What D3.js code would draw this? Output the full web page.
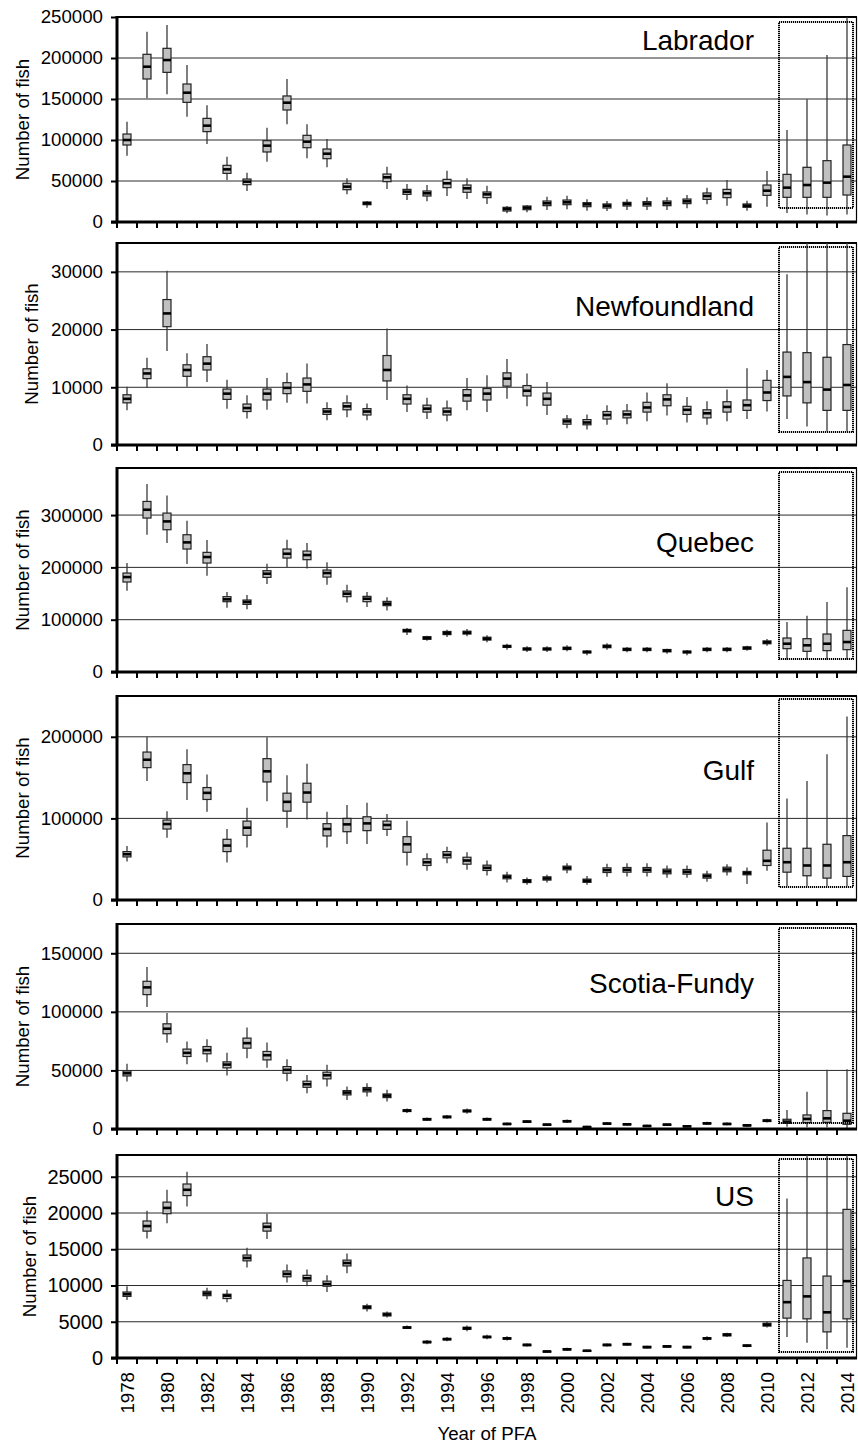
<!DOCTYPE html>
<html>
<head>
<meta charset="utf-8">
<script src="https://cdn.jsdelivr.net/npm/d3@7/dist/d3.min.js"></script>
<style>
  body { margin: 0; background: #fff; }
  svg { display: block; }
  text { font-family: "Liberation Sans", Arial, sans-serif; fill: #000; }
</style>
</head>
<body>
<svg id="chart" width="858" height="1445"></svg>
<script>
// ---- categories ----
const years = ["1978","1979","1980","1981","1982","1983","1984","1985","1986","1987",
  "1988","1989","1990","1991","1992","1993","1994","1995","1996","1997","1998","1999",
  "2000","2001","2002","2003","2004","2005","2006","2007","2008","2009","2010","2011",
  "2012","2013","2014"];
const yearLabels = ["1978","1980","1982","1984","1986","1988","1990","1992","1994","1996",
  "1998","2000","2002","2004","2006","2008","2010","2012","2014"];
const projectedYears = ["2011","2012","2013","2014"];
const regions = ["Labrador","Newfoundland","Quebec","Gulf","Scotia-Fundy","US"];

// ---- value axes ----
const yMax = [250000, 35000, 390000, 250000, 175000, 28000];
const labradorTicks = [0, 50000, 100000, 150000, 200000, 250000];
const newfoundlandTicks = [0, 10000, 20000, 30000];
const quebecTicks = [0, 100000, 200000, 300000];
const gulfTicks = [0, 100000, 200000];
const scotiaFundyTicks = [0, 50000, 100000, 150000];
const usTicks = [0, 5000, 10000, 15000, 20000, 25000];

// ---- Labrador ----
const labradorLow = [80900,150800,155700,128500,95100,51200,37800,73600,119100,77600,66700,33700,17500,40200,26800,25200,31700,28000,21900,10600,11800,14600,15400,13800,13400,14600,14600,14600,16700,21500,19900,13800,18700,11000,9000,8000,9000];
const labradorQ1 = [93900,174400,182500,145900,110200,59300,45500,85400,136600,90600,77200,39400,21100,49200,33700,31700,41900,36200,29700,13400,15000,19900,21100,18700,17100,19500,19500,19900,22400,27600,29700,17900,32500,30100,30100,30100,32900];
const labradorMedian = [100000,189400,197500,157700,117500,64200,49200,93100,145500,98000,83300,43100,22800,54500,37000,35000,47200,41100,33700,15900,17500,22800,24000,21500,19900,22000,22400,22800,25200,31700,35000,19900,38200,41900,45100,48000,55300];
const labradorQ3 = [107300,204500,211800,168300,126400,69100,52400,99200,153700,105700,89000,47200,24400,58500,39800,37800,52000,45100,36600,17900,19500,25600,26800,23600,22000,24000,24800,25600,28000,35400,39800,22000,45100,58100,66700,74800,93900];
const labradorHigh = [122400,232000,240200,191500,142300,79700,60200,115000,174400,119100,101200,53300,25600,67500,46300,45100,62600,53300,44300,19500,20700,30900,32100,27600,25600,27600,30100,30100,32900,41900,51200,26000,62200,112200,149600,203700,262000];

// ---- Newfoundland ----
const newfoundlandLow = [6000,9900,16300,10100,10900,6300,4600,6100,7300,7200,4300,4800,4300,7800,5700,4500,4100,6000,5700,8000,6700,5200,2900,2700,3500,3600,4100,5100,3900,3500,4100,4500,5800,4500,3200,2400,2400];
const newfoundlandQ1 = [7300,11500,20500,11900,13000,7900,5800,7800,8900,9300,5300,6100,5200,11100,7100,5700,5200,7600,7800,10200,8500,6900,3600,3500,4500,4700,5700,6800,5300,4700,5700,6000,7700,8500,7300,6000,6000];
const newfoundlandMedian = [8000,12400,22800,13000,14100,8900,6400,8900,9900,10500,5800,6700,5800,13000,8000,6300,5800,8600,8900,11500,9400,8000,4100,3900,5200,5300,6500,7900,6100,5500,6600,6900,9100,11800,10900,9600,10400];
const newfoundlandQ3 = [8700,13200,25200,13900,15300,9700,7100,9700,10800,11600,6300,7300,6300,15500,8700,6900,6400,9600,9800,12500,10300,9000,4500,4400,5800,5900,7400,8700,6700,6100,7500,7800,11200,16100,16000,15200,17400];
const newfoundlandHigh = [10100,15100,30200,15900,17500,11300,8600,11600,12500,14100,7400,8600,7200,20200,10300,8200,7700,11600,12100,14900,12400,10900,5200,5300,6900,7100,9100,10700,8300,7600,9600,13300,13000,29600,37000,37000,37000];

// ---- Quebec ----
const quebecLow = [155400,262400,246500,206400,184100,122900,119800,168200,200000,198100,166900,133100,124200,117800,70700,59900,66900,68200,56700,42700,38200,38200,39500,31900,42700,37600,37600,35000,32000,37600,37600,40800,50300,23600,23600,23600,23600];
const quebecQ1 = [172000,294300,272000,235100,208300,134400,129300,180900,217900,214700,181500,144000,134400,126800,76500,62500,71500,72500,61000,47000,42000,42000,43000,36500,46500,41000,41000,38500,36500,41000,41000,43500,54000,44600,39500,40800,42700];
const quebecMedian = [181500,310200,287900,247800,219800,138900,133800,187900,226100,223600,189200,149700,140100,130600,79000,65000,74500,75200,63700,49000,44000,44000,45200,38200,49000,43300,43300,40800,38200,43300,43300,45900,56700,54100,51000,54100,57300];
const quebecQ3 = [189200,326100,303800,262400,228700,144000,137600,193600,235100,231200,194900,154800,144600,135000,81500,67500,77500,78000,66500,51000,46000,46000,47500,40000,51500,45500,45500,43000,40000,45500,45500,48000,59500,65000,63700,72600,79600];
const quebecHigh = [208300,359300,337600,289200,252300,152900,147100,207000,252900,246500,209600,166900,152900,142700,84100,69400,80900,82200,70100,54100,49000,49000,51000,42000,54800,47800,47800,44600,42000,47800,47800,50300,63100,95600,107700,133800,161800];

// ---- Gulf ----
const gulfLow = [47200,145900,76400,122400,108100,45900,64200,121100,88600,98800,64200,68700,68700,78500,42300,35800,45100,37000,30100,21500,18700,21500,32900,18700,28500,28900,28900,27200,27200,22400,30100,19500,35800,17000,17000,17000,17000];
const gulfQ1 = [52800,162200,87000,143900,123200,59300,79300,144700,108900,119900,78500,83700,85000,86600,58500,42300,51600,43900,36200,26000,21400,24400,37000,21600,33700,34100,34100,32100,31700,26800,34600,30900,42300,34100,29700,26800,28900];
const gulfMedian = [56100,171900,93100,155300,131300,66700,88600,157700,120300,131700,87000,92700,93900,91900,68300,46300,55300,48400,39400,28500,23200,26400,39400,23600,36600,37000,37000,35000,34600,29300,37400,32900,48000,46300,42300,42300,46300];
const gulfQ3 = [59300,181300,98000,165900,137800,74400,96700,173200,130900,143100,93500,100000,102000,96700,77600,50400,59300,52400,42700,30500,25000,28400,41500,25600,39400,39800,39800,37800,37400,31700,40200,35000,61000,63400,63400,68300,78900];
const gulfHigh = [66300,200000,108900,184600,153700,87000,113000,199600,152800,167100,108100,116300,119100,105300,97200,57300,65400,58500,48400,34600,27600,30900,45100,29300,44300,45100,45100,42300,42300,35800,43900,39800,95100,124400,145900,178500,224800];

// ---- Scotia-Fundy ----
const scotiaFundyLow = [40500,104100,73600,55300,57000,45600,60500,52200,40800,30500,36200,24800,27700,23400,13700,6900,8700,13100,6900,3200,5100,2700,5200,900,3400,2900,1700,2700,1400,3500,3100,2000,5500,2000,1400,1400,600];
const scotiaFundyQ1 = [45300,114700,81300,61900,64200,52200,69000,59000,47600,35600,42800,29100,31700,26800,14900,7600,9600,14600,7600,3800,5700,3200,6000,1300,4100,3500,2200,3200,1900,4300,3800,2600,6400,4800,5400,5700,4000];
const scotiaFundyMedian = [47600,120900,85600,65000,67300,55000,73300,63000,50500,38200,45900,31100,33700,28500,15700,8300,10300,15400,8300,4300,6300,3700,6600,1700,4600,4000,2600,3700,2300,4800,4300,3100,7100,6300,8600,9100,7100];
const scotiaFundyQ3 = [49600,126100,89800,68200,70400,57300,77600,66200,53300,40800,48500,32800,35400,29900,16500,9000,11000,16200,9000,4800,6900,4200,7200,2100,5100,4500,3000,4200,2700,5300,4800,3600,7800,8300,12000,15700,13400];
const scotiaFundyHigh = [55600,138300,99000,74700,76700,65000,86700,73900,59600,46200,54800,36200,39100,33400,17400,9800,12000,17400,9800,5500,7600,4800,8100,2800,5900,5200,3600,4800,3300,6200,5600,4300,8800,16300,31700,50500,51000];

// ---- US ----
const usLow = [8000,16500,18600,20900,8100,7700,12500,16400,10400,9900,9100,11700,6400,5600,4000,1900,2300,3700,2600,2400,1600,750,1000,850,1600,1700,1300,1400,1300,2400,2900,1500,4200,2900,2100,1200,1400];
const usQ1 = [8500,17500,19900,22400,8600,8200,13400,17500,11200,10600,9900,12700,6800,5800,4100,2100,2500,3950,2800,2600,1700,850,1100,950,1700,1800,1400,1500,1400,2600,3050,1600,4400,5500,5400,3600,5400];
const usMedian = [8800,18200,20700,23200,8900,8600,13800,18100,11600,11000,10200,13100,7000,6000,4200,2200,2600,4100,2900,2700,1800,900,1200,1000,1800,1900,1500,1600,1500,2700,3200,1700,4600,7700,8500,6300,10600];
const usQ3 = [9100,18900,21500,24000,9200,8800,14200,18600,12000,11400,10600,13500,7200,6200,4300,2300,2700,4250,3000,2800,1900,950,1300,1050,1900,2000,1600,1700,1600,2800,3350,1800,4800,10700,13800,11300,20500];
const usHigh = [9900,20300,23200,25700,9700,9400,15200,19900,12900,12200,11400,14400,7500,6400,4500,2500,2900,4500,3200,3000,2000,1050,1400,1150,2000,2100,1700,1800,1700,3000,3500,1900,5000,22000,30000,30000,30000];

// ---- assemble per-panel tables ----
const series = [
  { ticks: labradorTicks, low: labradorLow, q1: labradorQ1, med: labradorMedian, q3: labradorQ3, high: labradorHigh },
  { ticks: newfoundlandTicks, low: newfoundlandLow, q1: newfoundlandQ1, med: newfoundlandMedian, q3: newfoundlandQ3, high: newfoundlandHigh },
  { ticks: quebecTicks, low: quebecLow, q1: quebecQ1, med: quebecMedian, q3: quebecQ3, high: quebecHigh },
  { ticks: gulfTicks, low: gulfLow, q1: gulfQ1, med: gulfMedian, q3: gulfQ3, high: gulfHigh },
  { ticks: scotiaFundyTicks, low: scotiaFundyLow, q1: scotiaFundyQ1, med: scotiaFundyMedian, q3: scotiaFundyQ3, high: scotiaFundyHigh },
  { ticks: usTicks, low: usLow, q1: usQ1, med: usMedian, q3: usQ3, high: usHigh }
];

// ---- layout ----
const plotLeft = 117, plotRight = 857;
const panelTop = [17, 243, 468, 696, 924, 1155];
const panelBottom = [222, 445, 672, 900, 1129, 1358];
const nameDy = [33, 73, 84, 84, 69, 51];        // baseline of region name below panel top
const titleX = [22, 31, 22, 22, 22, 29];          // y-axis title centre
const tickFont = [18.7, 18.7, 18.7, 18.7, 18.7, 20];
const dotInsetTop = [5, 4, 4, 3, 4, 4];
const dotInsetBottom = [14, 13, 13, 13, 6, 6];
const boxW = 8;

const svg = d3.select("#chart");
const defs = svg.append("defs");

const x = d3.scaleBand().domain(years).range([plotLeft, plotRight]).paddingInner(0).paddingOuter(0);
const cx = d => x(d) + x.bandwidth() / 2;

series.forEach((s, i) => {
  const top = panelTop[i], bottom = panelBottom[i];
  const y = d3.scaleLinear().domain([0, yMax[i]]).range([bottom, top]);
  const g = svg.append("g").attr("class", "panel");

  // horizontal gridlines
  g.append("g").selectAll("line").data(s.ticks.filter(t => t > 0 && t < yMax[i]))
    .join("line")
    .attr("x1", plotLeft).attr("x2", plotRight)
    .attr("y1", d => y(d)).attr("y2", d => y(d))
    .attr("stroke", "#2a2a2a").attr("stroke-width", 1);

  // frame: top (thick) and right (thin)
  g.append("line").attr("x1", plotLeft).attr("x2", plotRight).attr("y1", top).attr("y2", top)
    .attr("stroke", "#000").attr("stroke-width", 2.2);
  g.append("line").attr("x1", plotRight - 0.5).attr("x2", plotRight - 0.5).attr("y1", top).attr("y2", bottom)
    .attr("stroke", "#000").attr("stroke-width", 1.2);

  // clip for marks
  const clipId = "clip" + i;
  defs.append("clipPath").attr("id", clipId).append("rect")
    .attr("x", plotLeft).attr("y", top).attr("width", plotRight - plotLeft).attr("height", bottom - top);

  const rows = years.map((yr, k) => ({ yr, low: s.low[k], q1: s.q1[k], med: s.med[k], q3: s.q3[k], high: s.high[k] }));
  const marks = g.append("g").attr("clip-path", `url(#${clipId})`);

  const box = marks.selectAll("g.box").data(rows).join("g").attr("class", "box");
  box.append("line")
    .attr("x1", d => cx(d.yr)).attr("x2", d => cx(d.yr))
    .attr("y1", d => y(d.high)).attr("y2", d => y(d.low))
    .attr("stroke", "#3a3a3a").attr("stroke-width", 1.3);
  box.append("rect")
    .attr("x", d => cx(d.yr) - boxW / 2).attr("width", boxW)
    .attr("y", d => y(d.q3)).attr("height", d => Math.max(y(d.q1) - y(d.q3), 1))
    .attr("fill", "#c0c0c0").attr("stroke", "#222").attr("stroke-width", 1.2);
  box.append("line")
    .attr("x1", d => cx(d.yr) - boxW / 2).attr("x2", d => cx(d.yr) + boxW / 2)
    .attr("y1", d => y(d.med)).attr("y2", d => y(d.med))
    .attr("stroke", "#000").attr("stroke-width", 2.6);

  // dotted frame around projected years
  const px0 = x(projectedYears[0]) + 2;
  const px1 = x(projectedYears[projectedYears.length - 1]) + x.bandwidth() - 4;
  g.append("rect")
    .attr("x", px0).attr("y", top + dotInsetTop[i])
    .attr("width", px1 - px0).attr("height", (bottom - dotInsetBottom[i]) - (top + dotInsetTop[i]))
    .attr("fill", "none").attr("stroke", "#000").attr("stroke-width", 2)
    .attr("stroke-dasharray", "1.2,0.8");

  // y axis
  const yAxis = d3.axisLeft(y).tickValues(s.ticks).tickFormat(d3.format("d")).tickSize(6).tickPadding(8);
  const ya = g.append("g").attr("transform", `translate(${plotLeft},0)`).call(yAxis);
  ya.select(".domain").remove();
  ya.selectAll(".tick line").attr("stroke", "#000").attr("stroke-width", 2);
  ya.selectAll(".tick text").attr("font-size", tickFont[i]).attr("fill", "#000")
    .attr("font-family", '"Liberation Sans", Arial, sans-serif');
  g.append("line").attr("x1", plotLeft).attr("x2", plotLeft).attr("y1", top - 1).attr("y2", bottom + 1)
    .attr("stroke", "#000").attr("stroke-width", 3);

  // x axis baseline with ticks at band edges
  g.append("line").attr("x1", plotLeft - 6).attr("x2", plotRight).attr("y1", bottom).attr("y2", bottom)
    .attr("stroke", "#000").attr("stroke-width", 3);
  g.append("g").selectAll("line").data(years)
    .join("line")
    .attr("x1", d => x(d)).attr("x2", d => x(d))
    .attr("y1", bottom).attr("y2", bottom + 6)
    .attr("stroke", "#000").attr("stroke-width", 2);

  // y-axis title
  g.append("text")
    .attr("transform", `translate(${titleX[i]},${(top + bottom) / 2}) rotate(-90)`)
    .attr("text-anchor", "middle").attr("dy", "0.35em")
    .attr("font-size", 18.7)
    .text("Number of fish");

  // region name
  g.append("text")
    .attr("x", 754).attr("y", top + nameDy[i])
    .attr("text-anchor", "end").attr("font-size", 28)
    .text(regions[i]);

  // year labels under the last panel only
  if (i === series.length - 1) {
    g.append("g").selectAll("text").data(yearLabels)
      .join("text")
      .attr("transform", d => `translate(${cx(d)},${bottom + 14}) rotate(-90)`)
      .attr("text-anchor", "end").attr("dy", "0.35em")
      .attr("font-size", 18.7)
      .text(d => d);
  }
});

// x-axis title
svg.append("text")
  .attr("x", (plotLeft + plotRight) / 2).attr("y", 1440)
  .attr("text-anchor", "middle").attr("font-size", 18.7)
  .text("Year of PFA");
</script>
</body>
</html>
